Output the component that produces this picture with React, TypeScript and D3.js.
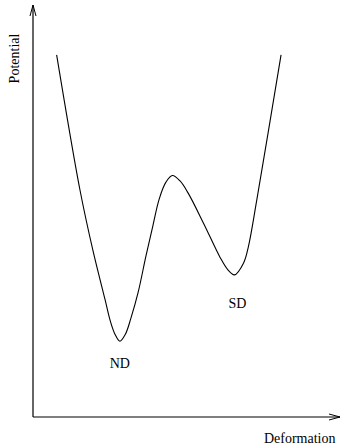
import { useRef, useEffect } from 'react';
import * as d3 from 'd3';

// Potential energy curve, arbitrary units
const deformation = [0.77, 1.53, 1.95, 2.35, 2.51, 2.67, 2.83, 3.01, 3.19, 3.42, 3.68, 3.91, 4.11, 4.33, 4.54, 4.79, 5.05, 5.57, 6.09, 6.35, 6.56, 6.86, 7.02, 7.29, 8.08];
const potential = [8.79, 5.51, 4.05, 2.84, 2.35, 2.01, 1.84, 2.01, 2.40, 3.01, 3.91, 4.66, 5.29, 5.70, 5.86, 5.73, 5.44, 4.68, 3.88, 3.57, 3.45, 3.74, 4.15, 5.27, 8.79];

// well labels placed at the two minima
const wellNames = ['ND', 'SD'];
const wellIndex = [6, 20];

const width = 344;
const height = 445;

export default function App() {
  const svgRef = useRef<SVGSVGElement>(null);

  useEffect(() => {
    if (!svgRef.current) return;
    const svg = d3.select(svgRef.current);
    svg.selectAll('*').remove();

    const xScale = d3.scaleLinear().domain([0, 10]).range([33, 340]);
    const yScale = d3.scaleLinear().domain([0, 10]).range([417, 5]);

    const font = '"Liberation Serif", "Times New Roman", serif';

    // Axes with open arrowheads
    const x0 = xScale(0), y0 = yScale(0);
    const xEnd = xScale(10), yEnd = yScale(10);

    svg.append('path')
      .attr('d', `M${x0},${y0} L${x0},${yEnd}`)
      .attr('stroke', '#000')
      .attr('stroke-width', 1.2)
      .attr('fill', 'none');

    svg.append('path')
      .attr('d', `M${x0},${y0} L${xEnd},${y0}`)
      .attr('stroke', '#000')
      .attr('stroke-width', 1.2)
      .attr('fill', 'none');

    svg.append('path')
      .attr('d', `M${x0 - 3},${yEnd + 11} L${x0},${yEnd} L${x0 + 3},${yEnd + 11}`)
      .attr('stroke', '#000')
      .attr('stroke-width', 1)
      .attr('fill', 'none');

    svg.append('path')
      .attr('d', `M${xEnd - 11},${y0 - 3} L${xEnd},${y0} L${xEnd - 11},${y0 + 3}`)
      .attr('stroke', '#000')
      .attr('stroke-width', 1)
      .attr('fill', 'none');

    // Curve
    const points = deformation.map((d, i) => [d, potential[i]] as [number, number]);
    const line = d3.line<[number, number]>()
      .x(d => xScale(d[0]))
      .y(d => yScale(d[1]))
      .curve(d3.curveCatmullRom.alpha(0.5));

    svg.append('path')
      .datum(points)
      .attr('d', line)
      .attr('fill', 'none')
      .attr('stroke', '#000')
      .attr('stroke-width', 1.1);

    // Well labels
    const offsets = [[0, 27], [3, 33]];
    wellNames.forEach((name, k) => {
      const i = wellIndex[k];
      svg.append('text')
        .attr('x', xScale(deformation[i]) + offsets[k][0])
        .attr('y', yScale(potential[i]) + offsets[k][1])
        .attr('text-anchor', 'middle')
        .attr('font-family', font)
        .attr('font-size', 14)
        .text(name);
    });

    // Axis titles
    svg.append('text')
      .attr('x', 335.5)
      .attr('y', 443)
      .attr('text-anchor', 'end')
      .attr('font-family', font)
      .attr('font-size', 14)
      .text('Deformation');

    svg.append('text')
      .attr('transform', 'translate(19,58.5) rotate(-90)')
      .attr('text-anchor', 'middle')
      .attr('font-family', font)
      .attr('font-size', 14)
      .text('Potential');
  }, []);

  return (
    <div style={{ position: 'absolute', left: 0, top: 0, background: '#fff' }}>
      <svg ref={svgRef} width={width} height={height} style={{ display: 'block' }} />
    </div>
  );
}
